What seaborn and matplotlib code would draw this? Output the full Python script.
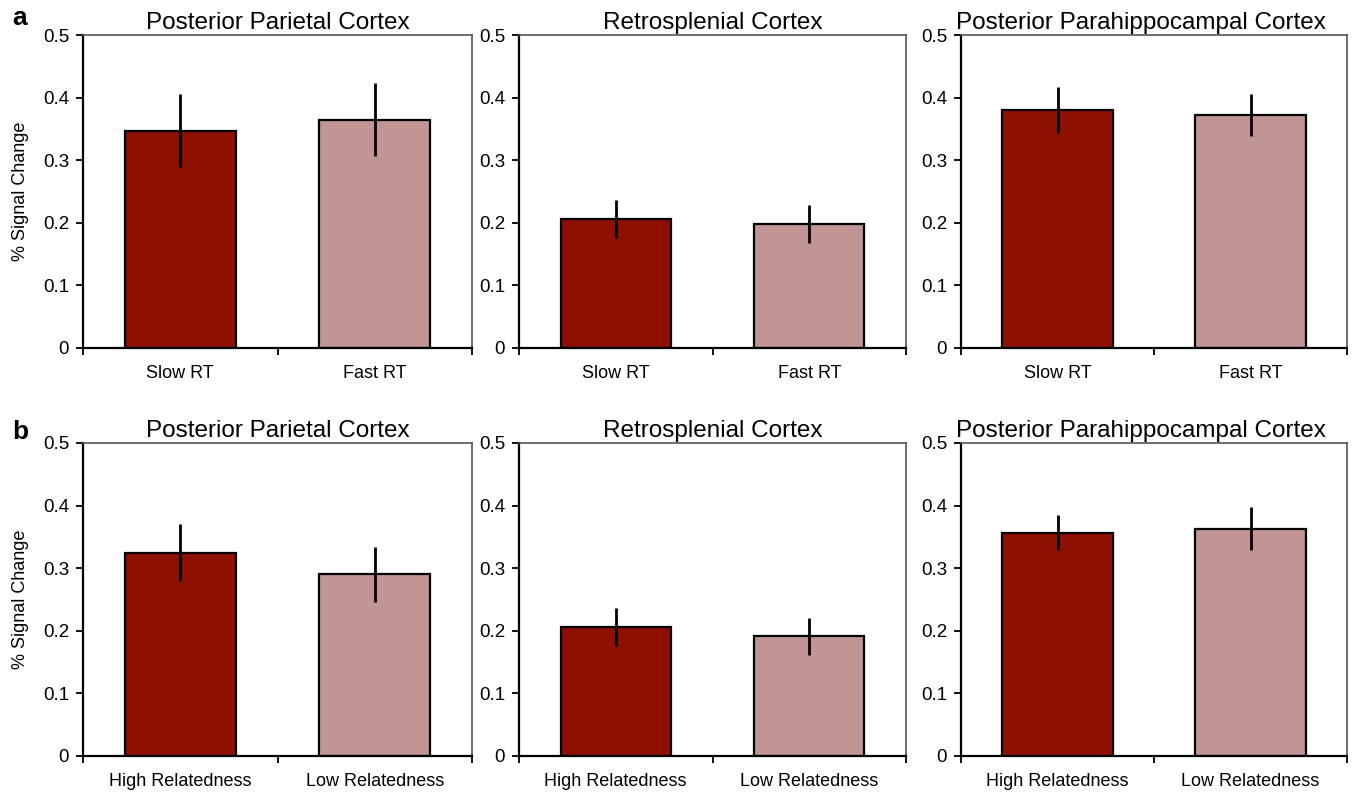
import matplotlib
matplotlib.use("Agg")
import matplotlib.pyplot as plt
import seaborn as sns
import pandas as pd
import numpy as np

sns.set_theme(style="white")
plt.rcParams['font.family'] = ['Liberation Sans', 'DejaVu Sans']
plt.rcParams['text.color'] = 'black'
plt.rcParams['axes.labelcolor'] = 'black'
plt.rcParams['xtick.color'] = 'black'
plt.rcParams['ytick.color'] = 'black'

# ---- data ----
regions = ["Posterior Parietal Cortex", "Retrosplenial Cortex", "Posterior Parahippocampal Cortex"]
conds_a = ["Slow RT", "Fast RT"]
conds_b = ["High Relatedness", "Low Relatedness"]
ytick_vals = [0, 0.1, 0.2, 0.3, 0.4, 0.5]
ytick_labels = ["0", "0.1", "0.2", "0.3", "0.4", "0.5"]

means_a = [[0.347, 0.365], [0.206, 0.198], [0.380, 0.372]]
sem_a = [[0.058, 0.058], [0.030, 0.030], [0.037, 0.034]]
means_b = [[0.325, 0.290], [0.206, 0.191], [0.357, 0.363]]
sem_b = [[0.045, 0.044], [0.030, 0.030], [0.028, 0.034]]

colors = ["#8E1000", "#C09593"]

W, H = 1360, 794
fig = plt.figure(figsize=(W / 100, H / 100), dpi=100)

lefts = [83, 519, 961]
rights = [472, 906, 1347]
rows = [(35, 348), (443, 756)]
title_x = [0.5, 0.5, 0.466]

def panel(ax, conds, means, sems, title, tx, show_ylabel):
    df = pd.DataFrame({"cond": conds, "val": means})
    sns.barplot(data=df, x="cond", y="val", hue="cond", palette=colors,
                order=conds, hue_order=conds, width=0.57, edgecolor="black",
                linewidth=1.6, errorbar=None, legend=False, ax=ax, saturation=1)
    ax.errorbar(x=np.arange(len(conds)), y=means, yerr=sems, fmt="none",
                ecolor="black", elinewidth=2, capsize=0, zorder=5)
    ax.set_ylim(0, 0.5)
    ax.set_xlim(-0.5, 1.5)
    ax.set_yticks(ytick_vals)
    ax.set_yticklabels(ytick_labels, fontsize=13.5)
    ax.tick_params(axis="y", direction="out", length=5, width=1.3, pad=5, left=True, colors="black")
    ax.tick_params(axis="x", which="major", length=0, pad=12, labelsize=13)
    ax.set_xticks([-0.5, 0.5, 1.5], minor=True)
    ax.tick_params(axis="x", which="minor", direction="out", length=5, width=1.3, bottom=True)
    ax.set_xlabel("")
    if show_ylabel:
        ax.set_ylabel("% Signal Change", fontsize=13, labelpad=10)
    else:
        ax.set_ylabel("")
    ax.set_title(title, fontsize=17.5, pad=4, x=tx, color="black")
    for s in ["left", "bottom"]:
        ax.spines[s].set_color("black")
        ax.spines[s].set_linewidth(1.6)
    for s in ["top", "right"]:
        ax.spines[s].set_color("#555555")
        ax.spines[s].set_linewidth(1.2)
        ax.spines[s].set_visible(True)

for r, (top, bot) in enumerate(rows):
    conds = conds_a if r == 0 else conds_b
    means = means_a if r == 0 else means_b
    sems = sem_a if r == 0 else sem_b
    for c in range(3):
        ax = fig.add_axes([lefts[c] / W, 1 - bot / H, (rights[c] - lefts[c]) / W, (bot - top) / H])
        panel(ax, conds, means[c], sems[c], regions[c], title_x[c], c == 0)

fig.text(12 / W, 1 - 18 / H, "a", fontsize=19, fontweight="bold", va="center", ha="left")
fig.text(12 / W, 1 - 432 / H, "b", fontsize=19, fontweight="bold", va="center", ha="left")

fig.savefig("out.png", dpi=100, facecolor="white")
